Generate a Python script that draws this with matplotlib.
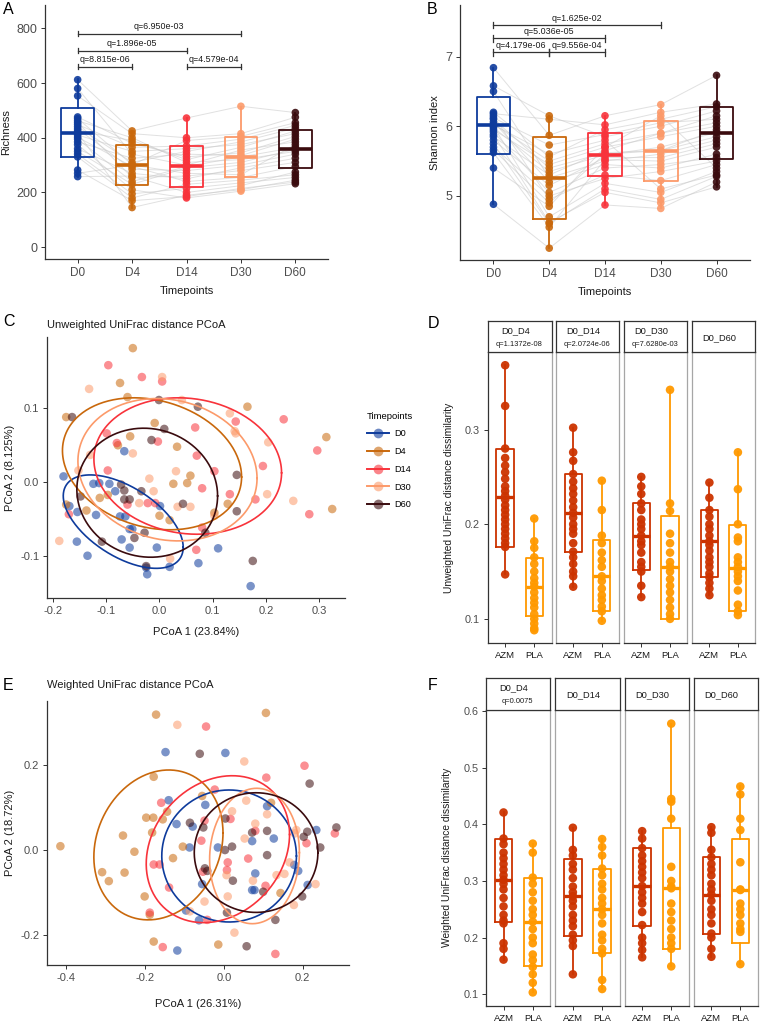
import numpy as np
import matplotlib
matplotlib.use("Agg")
import matplotlib.pyplot as plt
from matplotlib.lines import Line2D
from matplotlib.colors import to_rgba

plt.rcParams['font.family'] = ['Liberation Sans', 'DejaVu Sans']
plt.rcParams['axes.unicode_minus'] = True

# ---------------------------------------------------------------- data
timepoints = ["D0", "D4", "D14", "D30", "D60"]
tp_colors = ["#0E3B9C", "#C9680C", "#F8333B", "#FC9A6A", "#3A0B0E"]

# Panel A: richness per subject (same subject order in each list)
rich_d0 = [612, 580, 553, 476, 470, 462, 455, 448, 440, 432, 425, 418, 410, 402, 395, 385, 375, 360, 350, 340, 330, 282, 270, 258]
rich_d4 = [425, 340, 415, 380, 302, 400, 255, 365, 310, 285, 390, 145, 350, 295, 240, 325, 210, 270, 230, 195, 180, 170, 300, 260]
rich_d14 = [472, 300, 400, 330, 390, 310, 260, 370, 350, 280, 320, 190, 360, 240, 295, 340, 180, 250, 290, 215, 230, 185, 270, 200]
rich_d30 = [515, 355, 415, 345, 405, 320, 280, 395, 385, 300, 365, 210, 375, 255, 330, 335, 205, 290, 310, 235, 245, 215, 265, 225]
rich_d60 = [492, 385, 475, 405, 455, 350, 310, 445, 435, 340, 425, 245, 415, 295, 365, 395, 232, 325, 358, 255, 265, 238, 375, 275]
rich_whislo = [256, 145, 181, 203, 234]
rich_q1 = [328, 227, 221, 256, 289]
rich_med = [419, 301, 296, 331, 358]
rich_q3 = [507, 372, 369, 403, 427]
rich_whishi = [613, 422, 471, 514, 492]
rich_br_from = [0, 0, 0, 2]
rich_br_to = [3, 2, 1, 3]
rich_br_y = [780, 718, 660, 660]
rich_br_text = ["q=6.950e-03", "q=1.896e-05", "q=8.815e-06", "q=4.579e-04"]

# Panel B: Shannon index per subject
shan_d0 = [6.84, 6.58, 6.50, 6.20, 6.18, 6.15, 6.12, 6.10, 6.06, 6.03, 6.00, 5.98, 5.95, 5.92, 5.88, 5.85, 5.80, 5.75, 5.70, 5.66, 5.62, 5.40, 4.88, 6.02]
shan_d4 = [5.87, 6.15, 5.26, 5.56, 6.10, 4.95, 5.73, 5.40, 5.20, 5.50, 4.70, 5.35, 5.45, 5.05, 4.62, 5.30, 5.15, 4.60, 5.00, 4.90, 4.55, 4.85, 4.25, 5.60]
shan_d14 = [6.15, 5.85, 5.50, 5.95, 6.02, 5.30, 5.88, 5.62, 5.45, 5.75, 5.18, 5.59, 5.70, 5.40, 5.05, 5.65, 5.55, 5.10, 5.25, 5.60, 5.52, 5.70, 4.87, 5.80]
shan_d30 = [6.31, 6.00, 5.60, 6.10, 6.20, 5.22, 6.05, 5.65, 5.40, 5.90, 5.05, 5.70, 5.85, 5.45, 4.90, 5.90, 5.55, 4.95, 5.35, 5.65, 5.50, 6.15, 4.82, 5.10]
shan_d60 = [6.73, 6.22, 5.80, 6.28, 6.32, 5.45, 6.10, 5.95, 5.60, 6.05, 5.35, 5.91, 6.00, 5.55, 5.13, 6.15, 5.75, 5.28, 5.50, 5.85, 5.70, 5.40, 5.20, 5.30]
shan_whislo = [4.88, 4.25, 4.87, 4.82, 5.13]
shan_q1 = [5.60, 4.67, 5.28, 5.22, 5.53]
shan_med = [6.02, 5.26, 5.59, 5.65, 5.91]
shan_q3 = [6.42, 5.84, 5.90, 6.08, 6.28]
shan_whishi = [6.84, 6.15, 6.15, 6.31, 6.73]
shan_br_from = [0, 0, 0, 1]
shan_br_to = [3, 2, 1, 2]
shan_br_y = [7.45, 7.26, 7.06, 7.06]
shan_br_text = ["q=1.625e-02", "q=5.036e-05", "q=4.179e-06", "q=9.556e-04"]

# Panel C: unweighted UniFrac PCoA coordinates
uw_d0_x = [-0.180, -0.169, -0.154, -0.155, -0.135, -0.124, -0.113, -0.094, -0.083, -0.074, -0.066, -0.064, -0.056, -0.051, -0.071, -0.056, -0.025, -0.023, -0.005, 0.001, 0.019, 0.073, 0.110, 0.171, -0.119]
uw_d0_y = [0.008, -0.032, -0.040, -0.080, -0.099, -0.002, -0.001, -0.002, -0.012, -0.046, 0.042, -0.046, -0.063, -0.063, -0.077, -0.088, -0.115, -0.124, -0.088, -0.032, -0.114, -0.109, -0.089, -0.140, -0.044]
uw_d4_x = [-0.050, -0.074, -0.060, 0.165, -0.175, -0.009, -0.055, 0.313, -0.078, 0.033, 0.058, 0.026, 0.052, 0.128, -0.112, -0.175, -0.137, 0.324, 0.000, 0.019, -0.097, 0.103]
uw_d4_y = [0.181, 0.134, 0.115, 0.102, 0.088, 0.080, 0.062, 0.061, 0.050, 0.048, 0.009, -0.002, -0.001, -0.029, -0.021, -0.030, -0.038, -0.036, -0.045, -0.051, -0.017, -0.041]
uw_d14_x = [-0.096, -0.033, 0.005, 0.233, 0.143, 0.067, -0.099, -0.003, -0.080, 0.296, 0.070, -0.097, 0.194, 0.103, 0.080, 0.132, 0.180, -0.022, -0.008, -0.060, -0.170, 0.281, 0.080, 0.069]
uw_d14_y = [0.158, 0.142, 0.136, 0.085, 0.082, 0.074, 0.066, 0.055, 0.053, 0.043, 0.036, 0.016, 0.022, 0.015, -0.008, -0.016, -0.023, -0.028, -0.028, -0.030, -0.043, -0.043, -0.061, -0.091]
uw_d30_x = [0.005, -0.132, 0.042, 0.132, 0.143, 0.204, -0.050, -0.130, -0.152, 0.031, -0.019, -0.011, 0.202, 0.251, -0.038, 0.034, 0.058, 0.103, -0.188, 0.020, 0.141]
uw_d30_y = [0.142, 0.126, 0.111, 0.093, 0.066, 0.054, 0.039, 0.037, 0.016, 0.015, 0.005, -0.012, -0.016, -0.025, -0.028, -0.033, -0.033, -0.045, -0.079, -0.103, 0.069]
uw_d60_x = [-0.001, 0.072, -0.164, 0.009, -0.015, 0.145, -0.072, -0.034, -0.066, -0.148, -0.056, -0.066, 0.044, 0.145, 0.086, -0.028, -0.047, -0.108, 0.175, -0.025]
uw_d60_y = [0.111, 0.102, 0.088, 0.072, 0.057, 0.010, -0.003, -0.012, -0.011, -0.019, -0.023, -0.023, -0.029, -0.039, -0.068, -0.068, -0.075, -0.080, -0.106, -0.113]
# ellipse summaries (centre, half x-extent, half y-extent, correlation)
uw_ell_cx = [-0.068, -0.014, 0.053, 0.015, -0.023]
uw_ell_cy = [-0.053, 0.025, 0.022, 0.017, -0.014]
uw_ell_sx = [0.1125, 0.168, 0.176, 0.168, 0.132]
uw_ell_sy = [0.063, 0.089, 0.092, 0.096, 0.087]
uw_ell_r = [-0.55, -0.20, -0.10, -0.12, -0.05]

# Panel E: weighted UniFrac PCoA coordinates
w_d0_x = [-0.148, 0.004, -0.140, -0.047, -0.120, -0.079, -0.087, -0.015, 0.072, 0.127, 0.110, 0.235, 0.080, 0.189, 0.179, -0.055, 0.072, 0.078, 0.213, -0.096, -0.063, -0.118]
w_d0_y = [0.230, 0.228, 0.117, 0.106, 0.061, 0.055, 0.006, 0.006, 0.021, 0.027, 0.103, 0.047, -0.055, -0.049, -0.035, -0.080, -0.094, -0.094, -0.082, -0.142, -0.165, -0.236]
w_d4_x = [-0.172, 0.107, -0.178, -0.055, 0.120, -0.197, -0.179, -0.155, -0.144, -0.182, -0.256, -0.227, -0.415, -0.309, -0.292, -0.252, -0.201, -0.129, -0.104, -0.178, -0.014, 0.144, -0.188]
w_d4_y = [0.318, 0.322, 0.172, 0.127, 0.111, 0.076, 0.076, 0.072, 0.090, 0.041, 0.034, -0.004, 0.009, -0.052, -0.073, -0.053, -0.109, -0.019, 0.008, -0.215, -0.222, -0.101, -0.152]
w_d14_x = [-0.045, 0.205, 0.108, -0.023, -0.159, -0.049, 0.017, -0.057, 0.210, 0.282, -0.178, -0.163, 0.010, 0.062, 0.008, -0.053, -0.139, 0.106, -0.188, -0.042, -0.155, 0.131, 0.080]
w_d14_y = [0.290, 0.198, 0.170, 0.142, 0.111, 0.069, 0.073, 0.022, 0.016, 0.039, -0.034, -0.034, -0.029, -0.020, -0.047, -0.051, -0.088, -0.084, -0.147, -0.164, -0.228, -0.244, 0.045]
w_d30_x = [-0.118, 0.052, 0.057, 0.021, 0.110, 0.080, 0.053, 0.184, 0.180, 0.167, 0.154, 0.134, 0.074, 0.010, -0.049, -0.086, 0.027, 0.233, 0.178, 0.007]
w_d30_y = [0.294, 0.208, 0.116, 0.091, 0.084, 0.062, 0.027, 0.047, 0.039, -0.029, -0.056, -0.059, -0.072, -0.109, -0.121, -0.144, -0.194, -0.080, -0.129, -0.059]
w_d60_x = [-0.061, 0.218, -0.086, -0.052, 0.004, 0.021, 0.003, 0.072, 0.110, 0.212, 0.203, 0.286, 0.245, 0.110, -0.048, 0.023, 0.100, 0.199, 0.008, 0.131, 0.058, -0.042]
w_d60_y = [0.226, 0.156, 0.064, 0.053, 0.074, 0.008, 0.000, 0.041, 0.045, 0.043, 0.031, 0.053, 0.006, -0.012, -0.043, -0.072, -0.098, -0.109, -0.147, -0.164, -0.226, -0.049]
w_ell_cx = [0.0135, -0.166, -0.015, 0.078, 0.082]
w_ell_cy = [-0.014, 0.012, 0.002, -0.014, -0.006]
w_ell_sx = [0.171, 0.164, 0.182, 0.114, 0.157]
w_ell_sy = [0.155, 0.176, 0.1725, 0.159, 0.1405]
w_ell_r = [0.0, 0.16, 0.20, 0.05, 0.0]

# Panels D / F: distance to D0 by treatment
facet_names = ["D0_D4", "D0_D14", "D0_D30", "D0_D60"]
groups = ["AZM", "PLA"]
group_colors = ["#CC3300", "#FF9900"]

unw_q_labels = ["q=1.1372e-08", "q=2.0724e-06", "q=7.6280e-03", ""]
unw_azm_d4 = [0.368, 0.325, 0.280, 0.270, 0.262, 0.255, 0.248, 0.240, 0.235, 0.230, 0.226, 0.220, 0.215, 0.210, 0.205, 0.200, 0.195, 0.190, 0.185, 0.180, 0.176, 0.147]
unw_pla_d4 = [0.206, 0.182, 0.175, 0.165, 0.158, 0.150, 0.143, 0.138, 0.134, 0.128, 0.122, 0.117, 0.112, 0.105, 0.100, 0.095, 0.090, 0.088]
unw_azm_d14 = [0.302, 0.276, 0.267, 0.253, 0.245, 0.238, 0.232, 0.225, 0.218, 0.212, 0.207, 0.200, 0.195, 0.190, 0.180, 0.171, 0.165, 0.158, 0.150, 0.145, 0.134]
unw_pla_d14 = [0.246, 0.215, 0.188, 0.180, 0.170, 0.162, 0.155, 0.145, 0.140, 0.132, 0.125, 0.120, 0.113, 0.108, 0.098]
unw_azm_d30 = [0.250, 0.240, 0.232, 0.222, 0.215, 0.205, 0.200, 0.195, 0.188, 0.182, 0.178, 0.170, 0.160, 0.155, 0.150, 0.135, 0.123]
unw_pla_d30 = [0.342, 0.222, 0.214, 0.190, 0.180, 0.170, 0.160, 0.155, 0.150, 0.142, 0.135, 0.128, 0.120, 0.112, 0.105, 0.100]
unw_azm_d60 = [0.244, 0.228, 0.215, 0.208, 0.200, 0.195, 0.188, 0.182, 0.178, 0.172, 0.165, 0.160, 0.155, 0.148, 0.144, 0.138, 0.132, 0.125]
unw_pla_d60 = [0.276, 0.237, 0.200, 0.186, 0.182, 0.165, 0.160, 0.155, 0.150, 0.145, 0.140, 0.130, 0.115, 0.108, 0.104]
# box summaries: whisker low, q1, median, q3, whisker high
unw_azm_box = [[0.147, 0.176, 0.229, 0.280, 0.368], [0.134, 0.171, 0.212, 0.253, 0.302],
               [0.123, 0.152, 0.188, 0.222, 0.250], [0.125, 0.144, 0.182, 0.215, 0.244]]
unw_pla_box = [[0.088, 0.103, 0.134, 0.164, 0.206], [0.098, 0.108, 0.145, 0.183, 0.246],
               [0.100, 0.100, 0.155, 0.209, 0.342], [0.104, 0.108, 0.154, 0.199, 0.276]]

w_q_labels = ["q=0.0075", "", "", ""]
w_azm_d4 = [0.421, 0.375, 0.365, 0.350, 0.340, 0.330, 0.320, 0.310, 0.302, 0.295, 0.285, 0.270, 0.255, 0.240, 0.230, 0.225, 0.190, 0.180, 0.161]
w_pla_d4 = [0.366, 0.350, 0.306, 0.295, 0.280, 0.265, 0.250, 0.240, 0.228, 0.215, 0.200, 0.190, 0.170, 0.160, 0.148, 0.135, 0.120, 0.103]
w_azm_d14 = [0.394, 0.355, 0.345, 0.330, 0.320, 0.305, 0.290, 0.280, 0.273, 0.265, 0.255, 0.240, 0.230, 0.220, 0.205, 0.195, 0.185, 0.135]
w_pla_d14 = [0.374, 0.360, 0.345, 0.322, 0.310, 0.295, 0.285, 0.270, 0.260, 0.250, 0.240, 0.225, 0.205, 0.195, 0.180, 0.172, 0.125, 0.109]
w_azm_d30 = [0.388, 0.375, 0.358, 0.345, 0.335, 0.325, 0.315, 0.305, 0.291, 0.280, 0.270, 0.260, 0.245, 0.222, 0.200, 0.190, 0.178, 0.165]
w_pla_d30 = [0.578, 0.445, 0.440, 0.410, 0.325, 0.300, 0.290, 0.287, 0.260, 0.245, 0.230, 0.215, 0.200, 0.190, 0.180, 0.149]
w_azm_d60 = [0.395, 0.385, 0.355, 0.342, 0.330, 0.320, 0.310, 0.295, 0.285, 0.276, 0.265, 0.250, 0.240, 0.225, 0.207, 0.200, 0.180, 0.166]
w_pla_d60 = [0.467, 0.453, 0.410, 0.390, 0.333, 0.285, 0.284, 0.260, 0.250, 0.240, 0.225, 0.215, 0.210, 0.153]
w_azm_box = [[0.161, 0.227, 0.301, 0.375, 0.421], [0.135, 0.203, 0.273, 0.338, 0.394],
             [0.165, 0.221, 0.291, 0.358, 0.388], [0.166, 0.207, 0.276, 0.343, 0.395]]
w_pla_box = [[0.103, 0.149, 0.228, 0.306, 0.366], [0.109, 0.172, 0.250, 0.322, 0.374],
             [0.149, 0.180, 0.287, 0.393, 0.578], [0.153, 0.191, 0.284, 0.375, 0.467]]

# ---------------------------------------------------------------- figure
W, H = 760, 1024
fig = plt.figure(figsize=(W / 100, H / 100), dpi=100)
fig.patch.set_facecolor("white")

AX_COL = "#333333"
TICK_COL = "#4D4D4D"


def add_ax(l, t, r, b):
    return fig.add_axes([l / W, 1 - b / H, (r - l) / W, (b - t) / H])


def classic(ax, xs=8.5, ys=8.5):
    for s in ["top", "right"]:
        ax.spines[s].set_visible(False)
    for s in ["left", "bottom"]:
        ax.spines[s].set_color(AX_COL)
        ax.spines[s].set_linewidth(0.9)
    ax.tick_params(axis="both", colors=AX_COL, length=3, width=0.7, labelcolor=TICK_COL)
    ax.tick_params(axis="x", labelsize=xs, pad=2.5)
    ax.tick_params(axis="y", labelsize=ys, pad=2.5)


def draw_box(ax, pos, stat, color, width=0.6, lw=1.3, mlw=2.6, z=2):
    st = [dict(whislo=stat[0], q1=stat[1], med=stat[2], q3=stat[3], whishi=stat[4], fliers=[])]
    ax.bxp(st, positions=[pos], widths=width, showfliers=False, showcaps=False,
           boxprops=dict(color=color, linewidth=lw),
           whiskerprops=dict(color=color, linewidth=lw),
           medianprops=dict(color=color, linewidth=mlw, solid_capstyle="butt"),
           manage_ticks=False, zorder=z)


def paired_panel(ax, series, whislo, q1, med, q3, whishi, br_from, br_to, br_y, br_text, tick_h):
    pos = np.arange(1, len(series) + 1)
    for subj in zip(*series):
        ax.plot(pos, subj, color="#C8C8C8", lw=0.7, alpha=0.55, zorder=1)
    for i, vals in enumerate(series):
        draw_box(ax, pos[i], [whislo[i], q1[i], med[i], q3[i], whishi[i]], tp_colors[i])
        ax.scatter(np.full(len(vals), pos[i]), vals, s=30, color=tp_colors[i], alpha=0.9,
                   edgecolors="none", zorder=3)
    for a, b, y, t in zip(br_from, br_to, br_y, br_text):
        x1, x2 = pos[a], pos[b]
        ax.plot([x1, x2], [y, y], color="#333333", lw=0.9, zorder=4)
        ax.plot([x1, x1], [y - tick_h, y + tick_h], color="#333333", lw=0.9, zorder=4)
        ax.plot([x2, x2], [y - tick_h, y + tick_h], color="#333333", lw=0.9, zorder=4)
        ax.annotate(t, ((x1 + x2) / 2, y), xytext=(0, 1.8), textcoords="offset points",
                    ha="center", va="bottom", fontsize=6.4, color="#1A1A1A")
    ax.set_xticks(pos)
    ax.set_xticklabels(timepoints)
    ax.set_xlim(0.4, len(series) + 0.6)
    ax.set_xlabel("Timepoints", fontsize=8, color="#1A1A1A", labelpad=5)


# ---- Panel A
axA = add_ax(45, 5, 328, 259)
classic(axA, 8.5, 9)
paired_panel(axA, [rich_d0, rich_d4, rich_d14, rich_d30, rich_d60], rich_whislo, rich_q1, rich_med,
             rich_q3, rich_whishi, rich_br_from, rich_br_to, rich_br_y, rich_br_text, 10)
axA.set_ylim(-43, 885)
axA.set_yticks([0, 200, 400, 600, 800])
axA.set_ylabel("Richness", fontsize=8, color="#1A1A1A", labelpad=4)

# ---- Panel B
axB = add_ax(460, 5, 750, 260)
classic(axB, 8.5, 9)
paired_panel(axB, [shan_d0, shan_d4, shan_d14, shan_d30, shan_d60], shan_whislo, shan_q1, shan_med,
             shan_q3, shan_whishi, shan_br_from, shan_br_to, shan_br_y, shan_br_text, 0.045)
axB.set_ylim(4.08, 7.74)
axB.set_yticks([5, 6, 7])
axB.set_ylabel("Shannon index", fontsize=8, color="#1A1A1A", labelpad=4)


# ---- PCoA panels
def ellipse(ax, cx, cy, sx, sy, r, color):
    t = np.linspace(0, 2 * np.pi, 300)
    x = cx + sx * np.cos(t)
    y = cy + sy * (r * np.cos(t) + np.sqrt(1 - r * r) * np.sin(t))
    ax.plot(x, y, color=color, lw=1.2, zorder=3)


def pcoa_panel(ax, xs, ys, ecx, ecy, esx, esy, er):
    for i in range(5):
        ax.scatter(xs[i], ys[i], s=38, color=tp_colors[i], alpha=0.55, edgecolors="none", zorder=2)
    for i in range(5):
        ellipse(ax, ecx[i], ecy[i], esx[i], esy[i], er[i], tp_colors[i])


axC = add_ax(47, 337, 345, 598)
classic(axC, 8, 8)
pcoa_panel(axC, [uw_d0_x, uw_d4_x, uw_d14_x, uw_d30_x, uw_d60_x],
           [uw_d0_y, uw_d4_y, uw_d14_y, uw_d30_y, uw_d60_y],
           uw_ell_cx, uw_ell_cy, uw_ell_sx, uw_ell_sy, uw_ell_r)
axC.set_xlim(-0.211, 0.348)
axC.set_ylim(-0.156, 0.196)
axC.set_xticks([-0.2, -0.1, 0.0, 0.1, 0.2, 0.3])
axC.set_yticks([-0.1, 0.0, 0.1])
axC.xaxis.set_major_formatter(matplotlib.ticker.FormatStrFormatter("%.1f"))
axC.yaxis.set_major_formatter(matplotlib.ticker.FormatStrFormatter("%.1f"))
axC.set_xlabel("PCoA 1 (23.84%)", fontsize=8, color="#1A1A1A", labelpad=8)
axC.set_ylabel("PCoA 2 (8.125%)", fontsize=8, color="#1A1A1A", labelpad=4)
fig.text(47 / W, 1 - 325 / H, "Unweighted UniFrac distance PCoA", fontsize=8, color="#1A1A1A",
         ha="left", va="center")

handles = [Line2D([0], [0], color=c, lw=1.4, marker="o", markersize=7,
                  markerfacecolor=to_rgba(c, 0.6), markeredgecolor="none") for c in tp_colors]
fig.legend(handles, timepoints, title="Timepoints", loc="upper left",
           bbox_to_anchor=(363 / W, 1 - 408 / H), frameon=False, fontsize=6.6,
           title_fontsize=6.8, handlelength=2.4, labelspacing=0.95, alignment="left",
           borderaxespad=0, handletextpad=0.6)

axE = add_ax(47, 701, 349, 965)
classic(axE, 8, 8)
pcoa_panel(axE, [w_d0_x, w_d4_x, w_d14_x, w_d30_x, w_d60_x],
           [w_d0_y, w_d4_y, w_d14_y, w_d30_y, w_d60_y],
           w_ell_cx, w_ell_cy, w_ell_sx, w_ell_sy, w_ell_r)
axE.set_xlim(-0.449, 0.318)
axE.set_ylim(-0.27, 0.35)
axE.set_xticks([-0.4, -0.2, 0.0, 0.2])
axE.set_yticks([-0.2, 0.0, 0.2])
axE.xaxis.set_major_formatter(matplotlib.ticker.FormatStrFormatter("%.1f"))
axE.yaxis.set_major_formatter(matplotlib.ticker.FormatStrFormatter("%.1f"))
axE.set_xlabel("PCoA 1 (26.31%)", fontsize=8, color="#1A1A1A", labelpad=12)
axE.set_ylabel("PCoA 2 (18.72%)", fontsize=8, color="#1A1A1A", labelpad=4)
fig.text(47 / W, 1 - 685 / H, "Weighted UniFrac distance PCoA", fontsize=8, color="#1A1A1A",
         ha="left", va="center")


# ---- facet panels D / F
def facet_panel(lefts, rights, top, bottom, strip_top, ylim, yticks, azm_lists, pla_lists,
                azm_box, pla_box, qlabels, ylabel):
    for i in range(4):
        ax = add_ax(lefts[i], top, rights[i], bottom)
        for s in ["top", "right", "left"]:
            ax.spines[s].set_color("#A6A6A6")
            ax.spines[s].set_linewidth(0.9)
        ax.spines["bottom"].set_color(AX_COL)
        ax.spines["bottom"].set_linewidth(0.9)
        if i == 0:
            ax.spines["left"].set_color(AX_COL)
        draw_box(ax, 1, azm_box[i], group_colors[0], width=0.6, lw=1.3, mlw=2.4)
        draw_box(ax, 2, pla_box[i], group_colors[1], width=0.6, lw=1.3, mlw=2.4)
        ax.scatter(np.full(len(azm_lists[i]), 1), azm_lists[i], s=38, color=group_colors[0],
                   alpha=0.95, edgecolors="none", zorder=3)
        ax.scatter(np.full(len(pla_lists[i]), 2), pla_lists[i], s=38, color=group_colors[1],
                   alpha=0.95, edgecolors="none", zorder=3)
        ax.set_xlim(0.4, 2.6)
        ax.set_ylim(*ylim)
        ax.set_xticks([1, 2])
        ax.set_xticklabels(groups)
        ax.tick_params(axis="x", colors=AX_COL, length=3, width=0.7, labelcolor="#1A1A1A",
                       labelsize=6.8, pad=2.5)
        if i == 0:
            ax.set_yticks(yticks)
            ax.yaxis.set_major_formatter(matplotlib.ticker.FormatStrFormatter("%.1f"))
            ax.tick_params(axis="y", colors=AX_COL, length=3, width=0.7, labelcolor=TICK_COL,
                           labelsize=7.8, pad=2.5)
            ax.set_ylabel(ylabel, fontsize=7.4, color="#1A1A1A", labelpad=8)
        else:
            ax.set_yticks([])
        sax = add_ax(lefts[i], strip_top, rights[i], top)
        sax.set_xticks([])
        sax.set_yticks([])
        for s in sax.spines.values():
            s.set_color("#333333")
            s.set_linewidth(0.9)
        if qlabels[i]:
            sax.text(0.43, 0.68, facet_names[i], ha="center", va="center", fontsize=6.7,
                     color="#1A1A1A", transform=sax.transAxes)
            sax.text(0.49, 0.25, qlabels[i], ha="center", va="center", fontsize=5.4,
                     color="#1A1A1A", transform=sax.transAxes)
        else:
            sax.text(0.43, 0.47, facet_names[i], ha="center", va="center", fontsize=6.7,
                     color="#1A1A1A", transform=sax.transAxes)


facet_panel([487.7, 556, 624, 692.3], [551.7, 619, 687.3, 755], 352, 643, 321, (0.0745, 0.382),
            [0.1, 0.2, 0.3],
            [unw_azm_d4, unw_azm_d14, unw_azm_d30, unw_azm_d60],
            [unw_pla_d4, unw_pla_d14, unw_pla_d30, unw_pla_d60],
            unw_azm_box, unw_pla_box, unw_q_labels, "Unweighted UniFrac distance dissimilarity")

facet_panel([486, 555.3, 624.7, 694], [550.3, 619.7, 688.7, 757.7], 709.5, 1006, 678, (0.079, 0.603),
            [0.1, 0.2, 0.3, 0.4, 0.5, 0.6],
            [w_azm_d4, w_azm_d14, w_azm_d30, w_azm_d60],
            [w_pla_d4, w_pla_d14, w_pla_d30, w_pla_d60],
            w_azm_box, w_pla_box, w_q_labels, "Weighted UniFrac distance dissimilarity")

# ---- panel letters
for lab, x, y in [("A", 3, 10), ("B", 427, 10), ("C", 3, 322), ("D", 428, 323),
                  ("E", 3, 686), ("F", 428, 685)]:
    fig.text(x / W, 1 - y / H, lab, fontsize=11.5, color="#000000", ha="left", va="center")

fig.savefig("out.png", dpi=100, facecolor="white")
